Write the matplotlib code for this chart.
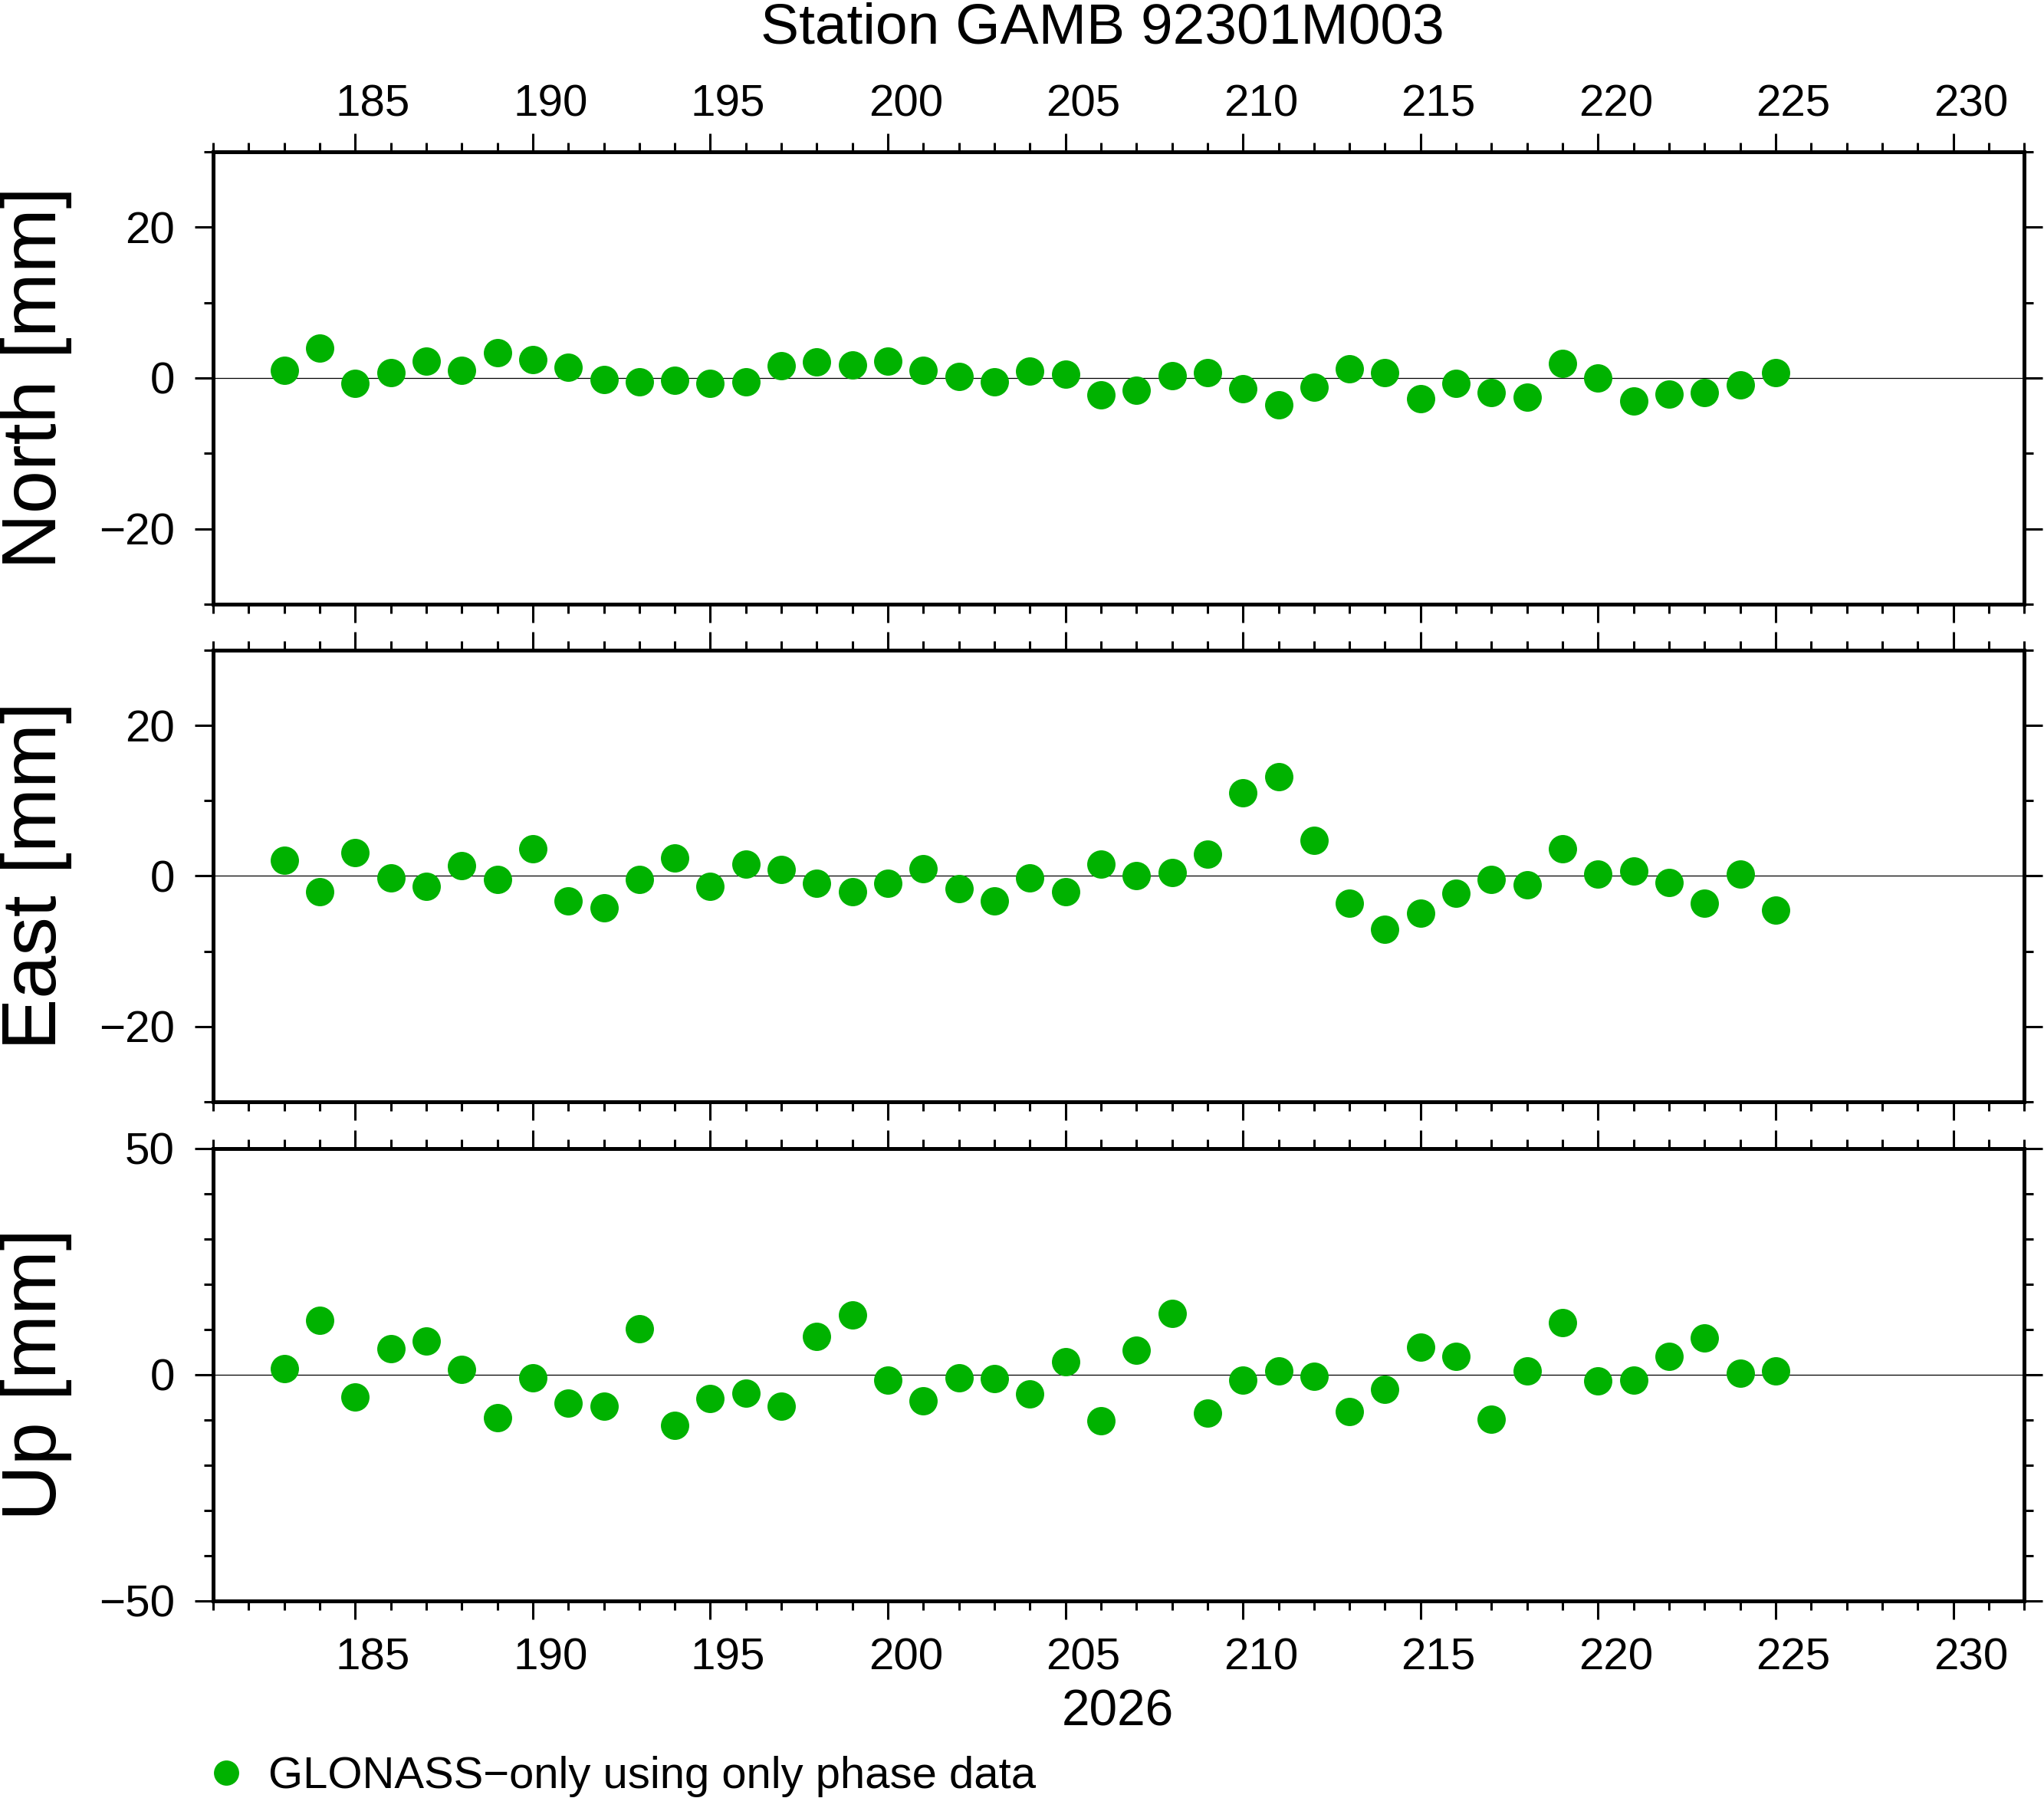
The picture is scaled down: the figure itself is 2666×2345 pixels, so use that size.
import matplotlib.pyplot as plt
from matplotlib.ticker import MultipleLocator
from matplotlib.transforms import ScaledTranslation

plt.rcParams['font.family'] = ['Liberation Sans', 'DejaVu Sans']

# day of year 2026, one solution per day
days = list(range(183, 226))

north = [1.0, 4.0, -0.7, 0.7, 2.2, 1.0, 3.3, 2.4, 1.4, -0.2,
         -0.5, -0.3, -0.7, -0.5, 1.6, 2.1, 1.7, 2.2, 1.0, 0.2,
         -0.5, 0.9, 0.5, -2.2, -1.6, 0.3, 0.7, -1.4, -3.6, -1.2,
         1.2, 0.7, -2.8, -0.7, -1.9, -2.6, 1.9, 0.0, -3.1, -2.1,
         -1.9, -0.9, 0.7]
east = [2.1, -2.1, 3.1, -0.3, -1.4, 1.4, -0.5, 3.6, -3.3, -4.2,
        -0.5, 2.4, -1.4, 1.6, 0.9, -1.0, -2.1, -1.0, 1.0, -1.7,
        -3.3, -0.3, -2.1, 1.6, 0.0, 0.5, 2.9, 11.1, 13.2, 4.7,
        -3.6, -7.1, -4.9, -2.3, -0.5, -1.2, 3.6, 0.3, 0.7, -0.9,
        -3.6, 0.3, -4.5]
up = [1.4, 12.1, -4.9, 5.8, 7.5, 1.2, -9.5, -0.6, -6.3, -6.9,
      10.1, -11.2, -5.2, -4.0, -6.9, 8.4, 13.3, -1.2, -5.8, -0.6,
      -0.9, -4.3, 2.9, -10.1, 5.5, 13.5, -8.4, -1.2, 0.9, -0.3,
      -8.1, -3.2, 6.1, 4.0, -9.8, 0.9, 11.5, -1.4, -1.2, 4.0,
      8.1, 0.3, 0.9]

title = 'Station GAMB 92301M003'
year_label = '2026'
series_label = 'GLONASS\u2212only using only phase data'
panel_labels = ['North [mm]', 'East [mm]', 'Up [mm]']
ylims = [(-30, 30), (-30, 30), (-50, 50)]
ymajor = [20, 20, 50]
xlim = (181, 232)

green = '#00b200'

fig = plt.figure(figsize=(13.33, 11.725), dpi=200)

# axes boxes in figure fractions (left, bottom, width, height)
rects = [
    (0.1043, 0.6640, 0.8860, 0.2516),
    (0.1043, 0.3872, 0.8860, 0.2512),
    (0.1043, 0.1096, 0.8860, 0.2516),
]

# day numbers sit in the middle of the day, half a day right of the tick
half_day = 0.5 * rects[0][2] * fig.get_figwidth() / (xlim[1] - xlim[0])
shift = ScaledTranslation(half_day, 0, fig.dpi_scale_trans)

handles = []
for i, vals in enumerate([north, east, up]):
    ax = fig.add_axes(rects[i])
    ax.axhline(0, color='black', lw=0.45, zorder=1)
    line, = ax.plot(days, vals, 'o', color=green, ms=13.3, mew=0,
                    label=series_label, zorder=3)
    ax.set_xlim(*xlim)
    ax.set_ylim(*ylims[i])
    ax.xaxis.set_major_locator(MultipleLocator(5))
    ax.xaxis.set_minor_locator(MultipleLocator(1))
    ax.yaxis.set_major_locator(MultipleLocator(ymajor[i]))
    ax.yaxis.set_minor_locator(MultipleLocator(10))
    ax.tick_params(which='both', direction='out', top=True, right=True,
                   width=1.1, labelsize=21)
    ax.tick_params(which='major', length=8.5)
    ax.tick_params(which='minor', length=4.3)
    ax.tick_params(axis='y', pad=9.5)
    ax.tick_params(axis='x', labelbottom=(i == 2), labeltop=(i == 0),
                   pad=(4 if i == 0 else 8.5))
    for sp in ax.spines.values():
        sp.set_linewidth(1.8)
    for t in ax.xaxis.get_major_ticks():
        t.label1.set_transform(t.label1.get_transform() + shift)
        t.label2.set_transform(t.label2.get_transform() + shift)
    y_mid = rects[i][1] + rects[i][3] / 2
    fig.text(0.0272, y_mid, panel_labels[i], rotation=90, rotation_mode='anchor',
             ha='center', va='baseline', fontsize=36.3)
    handles.append(line)

fig.text(0.5394, 0.9757, title, ha='center', va='baseline', fontsize=27)
fig.text(0.547, 0.0405, year_label, ha='center', va='baseline', fontsize=23.7)

fig.legend(handles=[handles[0]], loc='center left',
           bbox_to_anchor=(0.0998, 0.0120), frameon=False, borderpad=0,
           borderaxespad=0, handlelength=1.0, handletextpad=0.45,
           markerscale=0.89, fontsize=20.9)

fig.savefig('out.png', dpi=200)
